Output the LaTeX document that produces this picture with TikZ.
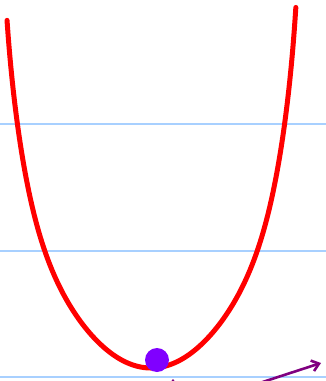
\documentclass[tikz,border=0pt]{standalone}
\usepackage{xcolor}
\usepackage{tikz}
\definecolor{gridblue}{HTML}{A8D0FF}
\definecolor{curvered}{HTML}{FF0000}
\definecolor{ballviolet}{HTML}{8000FF}
\definecolor{pushpurple}{HTML}{800080}
\usetikzlibrary{arrows.meta}

\begin{document}
\begin{tikzpicture}[x=1pt, y=-1pt,
    level/.style={draw=gridblue, line width=1.6pt},
    valley/.style={draw=curvered, line width=5pt, line cap=round, line join=round},
    ball/.style={fill=ballviolet},
    push/.style={draw=pushpurple, line width=2.6pt, line cap=round,
                 -{Straight Barb[length=7pt, width=11pt]}},
]
% --- Canvas (pixel units, y downwards) ---
\useasboundingbox (0,0) rectangle (326,381);
\clip (0,0) rectangle (326,381);

% --- Horizontal levels ---
\foreach \yy in {124, 251, 377}
    \draw[level] (0,\yy) -- (326,\yy);

% --- Potential well (symmetric about x = 151) ---
\draw[valley] plot[domain=-0.993:1, samples=200, smooth]
    ({151+145*\x}, {368-195*\x*\x-150*(\x*\x)^4-18*(\x*\x)^20});

% --- Ball at the bottom ---
\coordinate (ballC) at (157,360);
\fill[ball] (ballC) circle (12);

% --- Arrows (cut by the frame) ---
\coordinate (pushA) at (232,392);
\coordinate (pushB) at (321,363);
\draw[push] (pushA) -- (pushB);

\coordinate (riseA) at (173,400);
\coordinate (riseB) at (173,379);
\draw[push] (riseA) -- (riseB);
\end{tikzpicture}
\end{document}
